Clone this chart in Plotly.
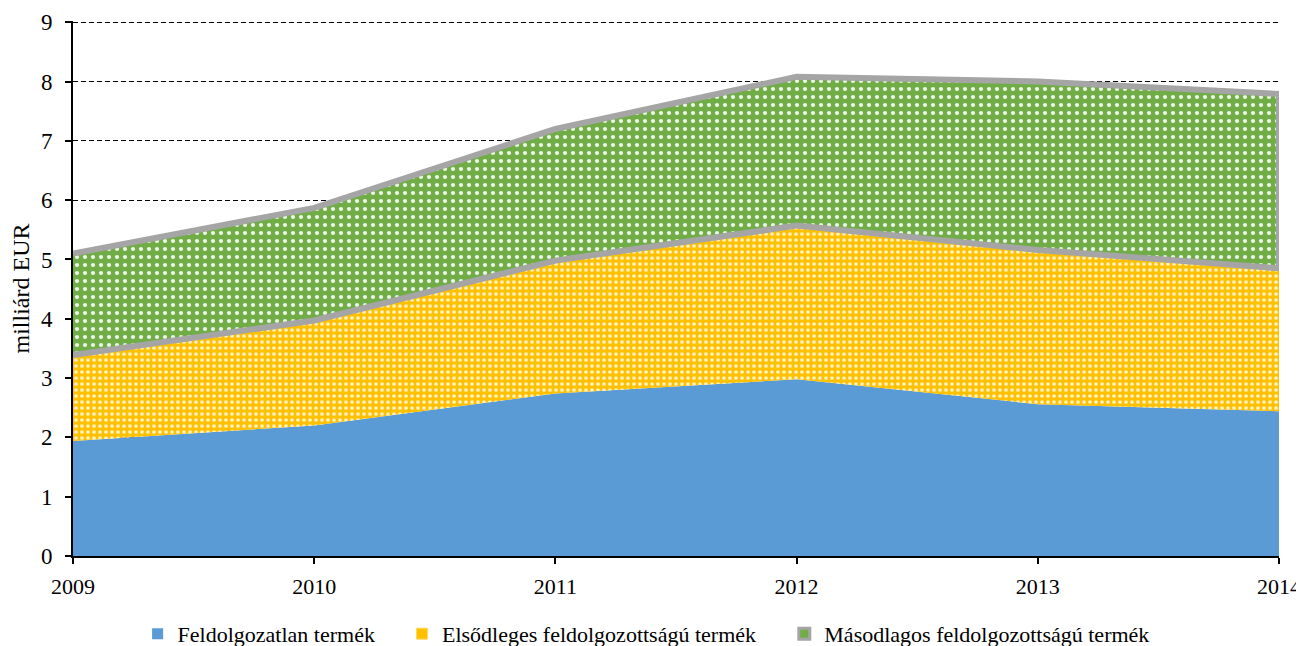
import plotly.graph_objects as go

years = [2009, 2010, 2011, 2012, 2013, 2014]
feldolgozatlan = [1.94, 2.20, 2.74, 2.98, 2.56, 2.44]
elsodleges = [1.45, 1.77, 2.24, 2.59, 2.60, 2.41]
masodlagos = [1.71, 1.90, 2.22, 2.51, 2.84, 2.94]

names = ['Feldolgozatlan termék', 'Elsődleges feldolgozottságú termék',
         'Másodlagos feldolgozottságú termék']

# cumulative levels for the stacked areas
lvl1 = feldolgozatlan
lvl2 = [a + b for a, b in zip(lvl1, elsodleges)]
lvl3 = [a + b for a, b in zip(lvl2, masodlagos)]

BLUE = '#5B9BD5'
YELLOW = '#FFC000'
GREEN = '#70AD47'
GRAY = '#A5A5A5'
FONT = 'Liberation Serif, Times New Roman, serif'

fig = go.Figure()

fig.add_trace(go.Scatter(
    x=years, y=lvl1, mode='lines', showlegend=False,
    line=dict(width=0, color=BLUE),
    fill='tozeroy', fillcolor=BLUE
))
fig.add_trace(go.Scatter(
    x=years, y=lvl2, mode='lines', showlegend=False,
    line=dict(width=0, color=YELLOW),
    fill='tonexty', fillcolor=YELLOW,
    fillpattern=dict(shape='.', bgcolor=YELLOW, fgcolor='#FFF2C4',
                     size=6, solidity=0.3, fillmode='replace')
))
fig.add_trace(go.Scatter(
    x=years, y=lvl3, mode='lines', showlegend=False,
    line=dict(width=0, color=GRAY),
    fill='tonexty', fillcolor=GREEN,
    fillpattern=dict(shape='.', bgcolor=GREEN, fgcolor='#EEF5E8',
                     size=8, solidity=0.22, fillmode='replace')
))

# gray border around the upper band (top, right side, bottom)
fig.add_trace(go.Scatter(
    x=years + years[::-1], y=lvl3 + lvl2[::-1], mode='lines',
    line=dict(width=6, color=GRAY), showlegend=False, hoverinfo='skip',
    cliponaxis=False
))

# legend entries (square swatches), one legend each
swatches = [
    dict(color=BLUE, line=dict(width=0)),
    dict(color=YELLOW, line=dict(width=1, color='#FFD966')),
    dict(color=GREEN, line=dict(width=3, color=GRAY)),
]
legend_x = [0.100, 0.304, 0.599]
for i, (nm, sw) in enumerate(zip(names, swatches)):
    lg = 'legend' if i == 0 else f'legend{i + 1}'
    fig.add_trace(go.Scatter(
        x=[None], y=[None], mode='markers', name=nm, legend=lg,
        marker=dict(symbol='square', size=11, **sw)
    ))

legend_common = dict(orientation='h', xref='container', yref='container',
                     y=0.019, yanchor='middle', xanchor='left',
                     font=dict(family=FONT, size=22), itemwidth=30,
                     bgcolor='rgba(0,0,0,0)')

# page body has an 8px margin, so the figure is sized to fill the rest
fig.update_layout(
    width=1296, height=638,
    margin=dict(l=65, r=25, t=13, b=90, autoexpand=False),
    paper_bgcolor='white', plot_bgcolor='white',
    font=dict(family=FONT, size=23, color='black'),
    showlegend=True,
    legend=dict(x=legend_x[0], **legend_common),
    legend2=dict(x=legend_x[1], **legend_common),
    legend3=dict(x=legend_x[2], **legend_common),
    xaxis=dict(range=[2009, 2014], tickvals=years, showgrid=False,
               showline=True, linecolor='black', linewidth=2,
               ticks='outside', ticklen=6, tickwidth=2, tickcolor='black',
               ticklabelstandoff=4, tickfont=dict(size=22),
               zeroline=False, automargin=False),
    yaxis=dict(range=[0, 9.02], tickvals=list(range(10)), showgrid=True,
               gridcolor='black', griddash='5px,3px', gridwidth=1,
               showline=True, linecolor='black', linewidth=2,
               ticks='outside', ticklen=6, tickwidth=2, tickcolor='black',
               ticklabelstandoff=8,
               zeroline=False, automargin=False,
               title=dict(text='milliárd EUR', standoff=8,
                          font=dict(size=24))),
)

fig.write_html('out.html')
